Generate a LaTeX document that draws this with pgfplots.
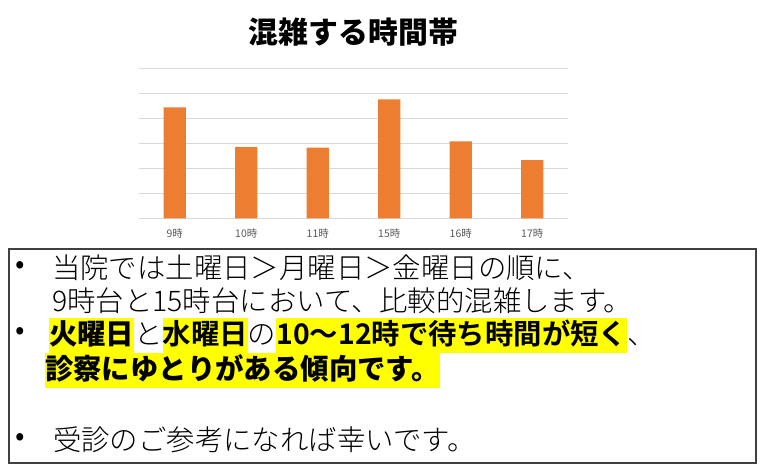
\documentclass[border=0pt]{standalone}
\usepackage{pgfplots}
\pgfplotsset{compat=1.18}
\usepackage{fontspec}
\setmainfont{Noto Sans CJK JP}
\newfontfamily\jplight{Noto Sans CJK JP Light}
\definecolor{barorange}{HTML}{ED7D31}
\definecolor{gridgray}{HTML}{D9D9D9}
\definecolor{labelgray}{HTML}{595959}
\definecolor{boxgray}{HTML}{404040}
\definecolor{hlyellow}{HTML}{FFFF00}
\setlength{\fboxsep}{0pt}
% highlight boxes: #1 depth, #2 total height
\newcommand\hl[3]{\colorbox{hlyellow}{\rule[-#1]{0pt}{#2}#3}}

\begin{document}
\begin{tikzpicture}[x=1bp,y=1bp]
\useasboundingbox (0,0) rectangle (768,475);

\node[font=\bfseries\fontsize{30}{30}\selectfont] at (353.5,443.3) {混雑する時間帯};

\begin{axis}[
    at={(139bp,256.7bp)}, anchor=south west,
    scale only axis, width=429bp, height=150bp,
    ybar, bar width=22.3bp,
    ymin=0, ymax=6, ytick={0,...,6}, yticklabels={},
    xmin=-0.5, xmax=5.5,
    xtick=data, xticklabels={9時,10時,11時,15時,16時,17時},
    axis line style={draw=none},
    major tick length=0pt,
    ymajorgrids, major grid style={draw=gridgray, line width=0.8bp},
    ticklabel style={font=\fontsize{10.5}{11}\selectfont, text=labelgray},
    xticklabel style={yshift=-6.5bp},
]
\addplot[fill=barorange, draw=none] coordinates {
    (0,4.44) (1,2.85) (2,2.83) (3,4.76) (4,3.08) (5,2.33)
};
\end{axis}

% text box
\draw[boxgray, line width=1.3bp] (9,226) rectangle (756,12);

\begin{scope}[every node/.style={inner sep=0pt, font=\fontsize{28.5}{28.5}\selectfont}]
\node[font=\fontsize{28}{28}\selectfont] at (20,207) {•};
\node[font=\fontsize{28}{28}\selectfont] at (20,141) {•};
\node[font=\fontsize{28}{28}\selectfont] at (20,35) {•};
\node[anchor=base west] at (52,196.2) {\jplight 当院では土曜日＞月曜日＞金曜日の順に、};
\node[anchor=base west] at (52,163.2) {\jplight 9時台と15時台において、比較的混雑します。};
\node[anchor=base west] at (49,130.2) {\hl{8.2bp}{35bp}{\bfseries 火曜日}\jplight と\hl{8.2bp}{35bp}{\bfseries 水曜日}\jplight の\hl{8.2bp}{35bp}{\bfseries 10～12時で待ち時間が短く}\jplight 、};
\node[anchor=base west] at (45,95.2) {\hl{8.2bp}{35bp}{\bfseries 診察にゆとりがある傾向です。}};
\node[anchor=base west] at (53,24.2) {\jplight 受診のご参考になれば幸いです。};
\end{scope}
\end{tikzpicture}
\end{document}
